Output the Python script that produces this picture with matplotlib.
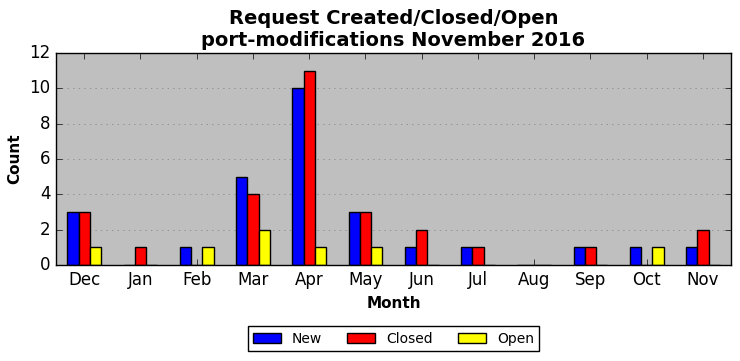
import numpy as np
import matplotlib
matplotlib.use('Agg')
import matplotlib.pyplot as plt

plt.style.use('classic')

months = ['Dec', 'Jan', 'Feb', 'Mar', 'Apr', 'May', 'Jun', 'Jul', 'Aug', 'Sep', 'Oct', 'Nov']
new = [3, 0, 1, 5, 10, 3, 1, 1, 0, 1, 1, 1]
closed = [3, 1, 0, 4, 11, 3, 2, 1, 0, 1, 0, 2]
opened = [1, 0, 1, 2, 1, 1, 0, 0, 0, 0, 1, 0]

x = np.arange(len(months))
w = 0.2

fig = plt.figure(figsize=(7.4, 3.61), dpi=100)
ax = fig.add_axes([56 / 740, 1 - 265 / 361, 675 / 740, 212 / 361])
ax.set_facecolor('#bfbfbf')

ax.bar(x - w, new, w, align='center', color='blue', edgecolor='black', label='New')
ax.bar(x, closed, w, align='center', color='red', edgecolor='black', label='Closed')
ax.bar(x + w, opened, w, align='center', color='yellow', edgecolor='black', label='Open')

ax.set_xlim(-0.5, len(months) - 0.5)
ax.set_ylim(0, 12)
ax.set_xticks(x)
ax.set_xticklabels(months)
ax.set_yticks(range(0, 13, 2))
ax.yaxis.grid(True, linestyle=':', color='gray')
ax.set_axisbelow(True)
ax.tick_params(labelsize=12)

ax.set_xlabel('Month', fontweight='bold', fontsize=11)
ax.set_ylabel('Count', fontweight='bold', fontsize=11)
ax.set_title('Request Created/Closed/Open\nport-modifications November 2016',
             fontweight='bold', fontsize=14)

ax.legend(loc='upper center', bbox_to_anchor=(0.5, -0.255), ncol=3,
          fontsize=10, frameon=True, columnspacing=1.8)

fig.savefig('out.png', dpi=100)
